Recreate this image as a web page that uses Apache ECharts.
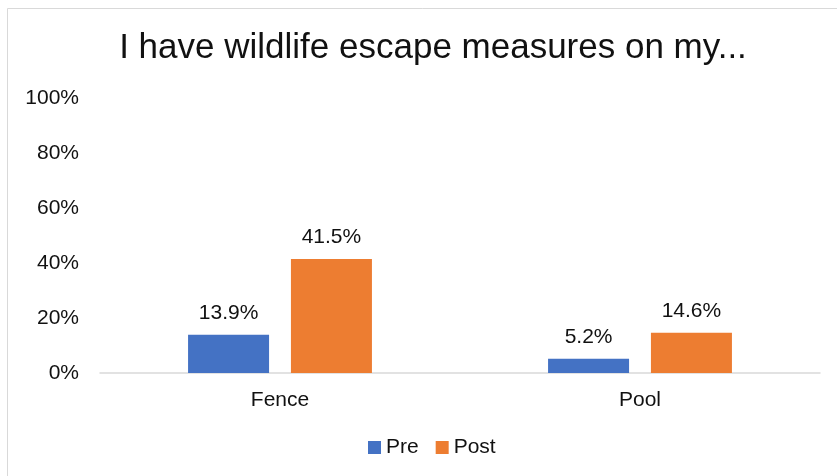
<!DOCTYPE html>
<html>
<head>
<meta charset="utf-8">
<script src="https://cdn.jsdelivr.net/npm/echarts@6/dist/echarts.min.js"></script>
<style>
  html, body { margin: 0; padding: 0; background: #ffffff; }
  #chart { width: 837px; height: 476px; }
</style>
</head>
<body>
<div id="chart"></div>
<script>
// Share of respondents with wildlife escape measures, before and after
const categories = ['Fence', 'Pool'];
const preValues = [13.9, 5.2];
const postValues = [41.5, 14.6];
const seriesNames = ['Pre', 'Post'];
const yTicks = [0, 20, 40, 60, 80, 100];

const FONT = '"Liberation Sans", Arial, sans-serif';
const TEXT = '#111111';

const chart = echarts.init(document.getElementById('chart'));

const labelStyle = {
  show: true,
  position: 'top',
  distance: 11,
  fontFamily: FONT,
  fontSize: 21,
  color: TEXT,
  formatter: p => p.value.toFixed(1) + '%'
};

chart.setOption({
  animation: false,
  backgroundColor: '#ffffff',
  title: {
    text: 'I have wildlife escape measures on my...',
    left: 428,
    textAlign: 'center',
    top: 26,
    textStyle: { fontFamily: FONT, fontSize: 35, fontWeight: 'normal', color: TEXT }
  },
  graphic: [{
    type: 'rect',
    shape: { x: 7.5, y: 8.5, width: 840, height: 480 },
    style: { fill: 'none', stroke: '#d9d9d9', lineWidth: 1 },
    silent: true,
    z: -1
  }],
  legend: {
    data: seriesNames,
    left: 368,
    top: 437,
    padding: 0,
    itemWidth: 13,
    itemHeight: 13,
    itemGap: 17,
    icon: 'rect',
    textStyle: { fontFamily: FONT, fontSize: 21, color: TEXT }
  },
  grid: { left: 100, right: 17, top: 98, bottom: 103, containLabel: false },
  xAxis: {
    type: 'category',
    data: categories,
    axisLine: { show: true, lineStyle: { color: '#d9d9d9', width: 1.5 } },
    axisTick: { show: false },
    axisLabel: { fontFamily: FONT, fontSize: 21, color: TEXT, margin: 17 }
  },
  yAxis: {
    type: 'value',
    min: yTicks[0],
    max: yTicks[yTicks.length - 1],
    interval: yTicks[1] - yTicks[0],
    axisLine: { show: false },
    axisTick: { show: false },
    splitLine: { show: false },
    axisLabel: { fontFamily: FONT, fontSize: 21, color: TEXT, margin: 21, formatter: v => v + '%' }
  },
  series: [
    {
      name: seriesNames[0],
      type: 'bar',
      data: preValues,
      barWidth: 81,
      barGap: '27%',
      itemStyle: { color: '#4472C4' },
      label: labelStyle
    },
    {
      name: seriesNames[1],
      type: 'bar',
      data: postValues,
      barWidth: 81,
      barGap: '27%',
      itemStyle: { color: '#ED7D31' },
      label: labelStyle
    }
  ]
});
</script>
</body>
</html>
